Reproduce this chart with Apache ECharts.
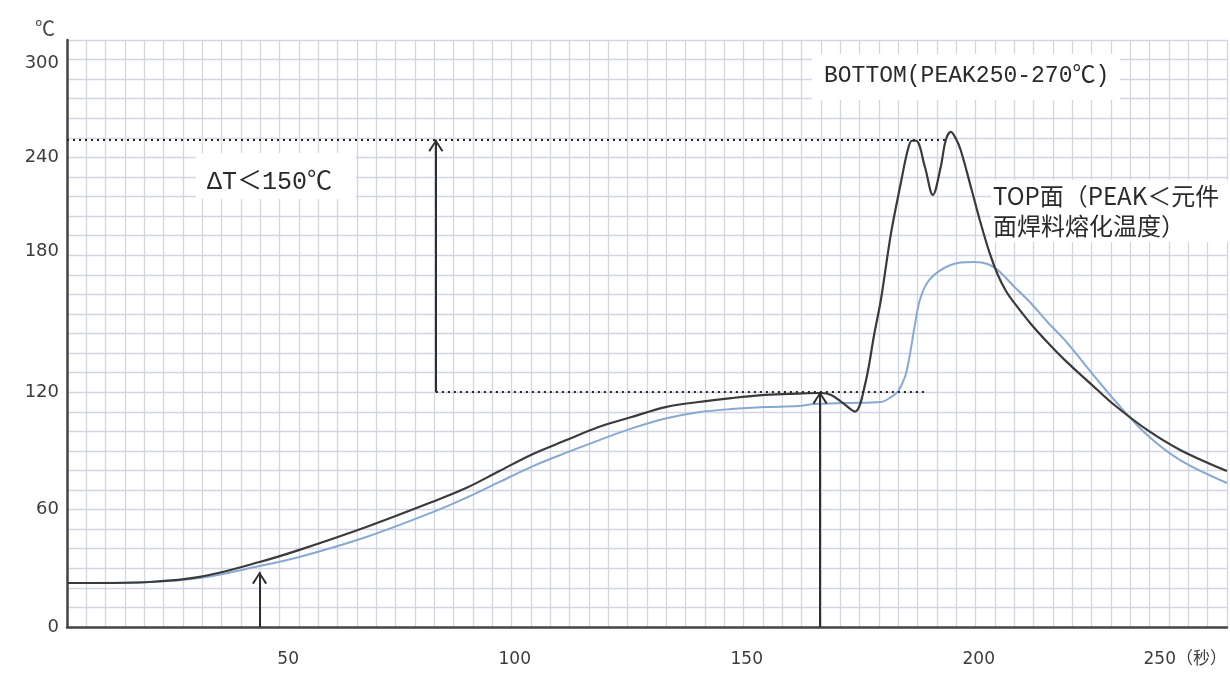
<!DOCTYPE html>
<html><head><meta charset="utf-8">
<script src="https://cdn.jsdelivr.net/npm/echarts@6/dist/echarts.min.js"></script>
<style>html,body{margin:0;padding:0;background:#fff}#c{width:1230px;height:675px}</style>
</head><body><div id="c"></div>
<script>
// ---- data (time in s, temperature in °C) ----
const bottomTime = [0, 7.1, 17.8, 28.6, 41.5, 50.1, 64.5, 78.7, 86.0, 93.1, 100.2, 107.5, 114.6, 121.7, 129.0, 136.1, 143.2, 150.5, 157.6, 162.5, 164.7, 167.2, 169.8, 172.0, 174.0, 175.4, 177.6, 179.7, 181.2, 182.1, 183.0, 184.9, 186.6, 188.3, 189.4, 190.5, 191.5, 192.6, 194.8, 196.9, 198.8, 200.6, 202.3, 204.2, 207.7, 211.3, 215.0, 222.1, 225.7, 232.8, 239.9, 250];
const bottomTemp = [22.5, 22.5, 23.0, 25.6, 33.2, 39.4, 51.1, 63.9, 71.0, 79.6, 88.2, 95.4, 102.2, 107.3, 112.4, 115.0, 117.0, 118.6, 119.3, 119.6, 118.6, 114.5, 110.1, 124, 150, 167.1, 201.4, 226.9, 243.8, 248.5, 248.5, 235.1, 220.8, 235.1, 248.9, 253.0, 249.9, 243.8, 224.9, 206.5, 191.5, 180.0, 172.0, 165.5, 155.0, 145.5, 136.5, 121.1, 113.5, 100.7, 90.5, 79.7];
const topTime = [0, 17.8, 28.6, 41.5, 50.1, 64.5, 78.7, 86.0, 93.1, 100.2, 107.5, 114.6, 121.7, 129.0, 136.1, 143.2, 150.5, 157.6, 161.2, 168.3, 175.4, 177.6, 179.1, 180.6, 181.2, 181.9, 182.7, 183.8, 185.5, 188.3, 192.0, 195.6, 198.4, 200.6, 204.2, 207.7, 211.3, 215.0, 222.1, 225.7, 232.8, 239.9, 250];
const topTemp = [22.5, 23.0, 25.0, 31.2, 35.8, 46.0, 58.6, 66.0, 74.0, 82.0, 89.0, 95.4, 101.5, 106.6, 109.8, 111.4, 112.4, 112.9, 114.0, 114.5, 115.0, 117.5, 120.5, 127.8, 133.5, 142.5, 154.0, 167.1, 176.3, 182.4, 186.0, 186.5, 185.5, 182.4, 173.8, 165.6, 155.9, 146.7, 126.2, 116.0, 98.1, 85.3, 73.6];
const xTickLabels = [50, 100, 150, 200, 250];
const yTickLabels = [0, 60, 120, 180, 240, 300];
// annotation values: [time, tempFrom, tempTo]
const arrowStart = [41.5, 0, 28];
const arrowSoakEnd = [162.3, 0, 120];
const arrowDelta = [79.5, 120, 249];
// dotted guide lines: [timeFrom, timeTo, temp]
const guidePeak = [0, 189.2, 249];
const guideSoak = [79.5, 185.5, 120];

const chart = echarts.init(document.getElementById('c'), null, {renderer: 'canvas'});
const gridColor = '#d2d6e1';
const chevron = 'path://M6,0 M6,10 L12,20 L10.6,21 L6,12.8 L1.4,21 L0,20 Z';
const annFont = "'Liberation Mono', 'Noto Sans CJK SC', monospace";
const cjkFont = "'Noto Sans CJK SC', 'Liberation Mono', sans-serif";
const tickFont = "'DejaVu Sans', 'Noto Sans CJK SC', sans-serif";

function arrow(a) {
  return [{coord: [a[0], a[1]], symbol: 'none'}, {coord: [a[0], a[2]], symbol: chevron, symbolSize: [15, 24]}];
}
function guide(g) {
  return [{coord: [g[0], g[2]], symbol: 'none'}, {coord: [g[1], g[2]], symbol: 'none'}];
}

const option = {
  backgroundColor: '#fff',
  animation: false,
  grid: {left: 67, right: 0, top: 40, bottom: 48, containLabel: false},
  xAxis: {
    type: 'value', min: 0, max: 250, interval: 50,
    axisLine: {show: true, onZero: false, lineStyle: {color: '#444', width: 2.5}},
    axisTick: {show: false},
    minorTick: {show: false, splitNumber: 12},
    splitLine: {show: true, lineStyle: {color: gridColor, width: 1.3}},
    minorSplitLine: {show: true, lineStyle: {color: gridColor, width: 1.3}},
    axisLabel: {
      margin: 24, align: 'right', color: '#3c3c3c', fontSize: 17, fontFamily: tickFont,
      formatter: v => (xTickLabels.indexOf(v) < 0 ? '' : (v === 250 ? v + '（秒）' : String(v)))
    }
  },
  yAxis: {
    type: 'value', min: 0, max: 300, interval: 60,
    name: '℃', nameLocation: 'end', nameGap: 2,
    nameTextStyle: {color: '#444', fontSize: 20, align: 'right', padding: [0, 12, 0, 0], fontFamily: cjkFont},
    axisLine: {show: true, lineStyle: {color: '#444', width: 2.5}},
    axisTick: {show: false},
    minorTick: {show: false, splitNumber: 6},
    splitLine: {show: true, lineStyle: {color: gridColor, width: 1.3}},
    minorSplitLine: {show: true, lineStyle: {color: gridColor, width: 1.3}},
    axisLabel: {
      margin: 8, color: '#3c3c3c', fontSize: 18, fontFamily: tickFont,
      formatter: v => {
        if (yTickLabels.indexOf(v) < 0) return '';
        if (v === 300) return '{dn|' + v + '}';
        if (v === 180) return '{up|' + v + '}';
        return String(v);
      },
      rich: {
        dn: {fontSize: 18, fontFamily: tickFont, color: '#3c3c3c', padding: [46, 0, 0, 0]},
        up: {fontSize: 18, fontFamily: tickFont, color: '#3c3c3c', padding: [0, 0, 46, 0]}
      }
    }
  },
  series: [
    {
      name: 'BOTTOM', type: 'line', smooth: 0.35, symbol: 'none',
      lineStyle: {color: '#3a3a3a', width: 2.2},
      data: bottomTime.map((t, i) => [t, bottomTemp[i]]),
      z: 3,
      markLine: {
        silent: true, animation: false,
        label: {show: false},
        lineStyle: {color: '#2e2e2e', width: 2, type: 'solid'},
        data: [arrow(arrowStart), arrow(arrowSoakEnd), arrow(arrowDelta)]
      }
    },
    {
      name: 'TOP', type: 'line', smooth: 0.35, symbol: 'none',
      lineStyle: {color: '#86a9d3', width: 2},
      data: topTime.map((t, i) => [t, topTemp[i]]),
      z: 2,
      markLine: {
        silent: true, animation: false,
        symbol: 'none',
        label: {show: false},
        lineStyle: {color: '#222', width: 2, type: [2, 4]},
        data: [guide(guidePeak), guide(guideSoak)]
      }
    }
  ],
  graphic: [
    {type: 'rect', z: 50, shape: {x: 812, y: 54, width: 308, height: 46}, style: {fill: '#fff'}},
    {type: 'text', z: 51, x: 824, y: 76, style: {text: 'BOTTOM(PEAK250-270℃)', font: '23px ' + annFont, fill: '#2a2a2a', verticalAlign: 'middle'}},
    {type: 'rect', z: 50, shape: {x: 196, y: 153, width: 160, height: 46}, style: {fill: '#fff'}},
    {type: 'text', z: 51, x: 207, y: 182, style: {text: 'ΔT＜150℃', font: '25px ' + annFont, fill: '#2a2a2a', verticalAlign: 'middle'}},
    {type: 'rect', z: 50, shape: {x: 991, y: 180, width: 239, height: 62}, style: {fill: '#fff'}},
    {type: 'text', z: 51, x: 993, y: 196, style: {text: 'TOP面（PEAK＜元件', font: '24px ' + cjkFont, fill: '#2a2a2a', verticalAlign: 'middle'}},
    {type: 'text', z: 51, x: 993, y: 226, style: {text: '面焊料熔化温度）', font: '24px ' + cjkFont, fill: '#2a2a2a', verticalAlign: 'middle'}}
  ]
};
chart.setOption(option);
</script>
</body></html>
